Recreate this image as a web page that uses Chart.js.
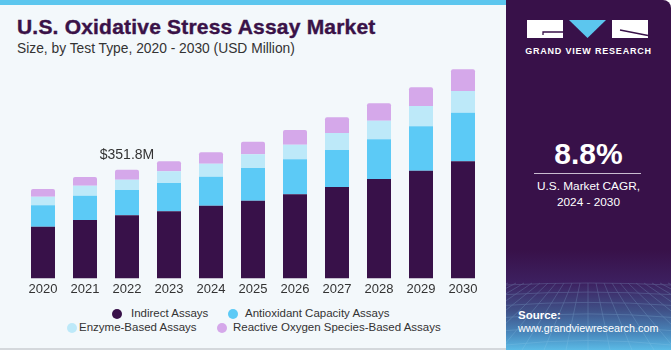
<!DOCTYPE html>
<html>
<head>
<meta charset="utf-8">
<script src="https://cdn.jsdelivr.net/npm/chart.js@4.4.1/dist/chart.umd.min.js"></script>
<style>
  html, body { margin:0; padding:0; }
  body { width:671px; height:350px; position:relative; overflow:hidden; background:#ffffff; font-family:"Liberation Sans", Arial, sans-serif; }
  #left { position:absolute; left:0; top:0; width:506px; height:348px; background:#f3f8fb; border-bottom:2px solid #d4d8dc; }
  #stripe { position:absolute; left:0; top:0; width:506px; height:5px; background:#5cc6ee; }
  #title { position:absolute; left:17px; top:15px; font-size:21px; font-weight:bold; color:#3a1248; white-space:nowrap; letter-spacing:0.2px; -webkit-text-stroke:0.4px #3a1248; }
  #subtitle { position:absolute; left:17px; top:41px; font-size:13.8px; color:#333; white-space:nowrap; }
  #chartwrap { position:absolute; left:0; top:0; width:506px; height:300px; }
  .leg { position:absolute; font-size:11.5px; color:#333; white-space:nowrap; }
  .dot { position:absolute; width:10px; height:10px; border-radius:50%; }
  #right { position:absolute; left:506px; top:0; width:165px; height:350px; border-top-right-radius:8px; overflow:hidden;
     background: linear-gradient(to bottom, #381149 0px, #381149 250px, #3d2060 283px, #3f4f86 310px, #4a8cc0 335px, #5bbbe6 350px); }
  .rt { position:absolute; color:#fff; white-space:nowrap; text-align:center; }
</style>
</head>
<body>
<div id="left"></div>
<div id="stripe"></div>
<div id="title">U.S. Oxidative Stress Assay Market</div>
<div id="subtitle">Size, by Test Type, 2020 - 2030 (USD Million)</div>
<div id="chartwrap"><canvas id="c" width="506" height="300"></canvas></div>
<div id="legend"></div>

<div id="right">
  <svg width="165" height="350" style="position:absolute;left:0;top:0">
    <g opacity="0.28" stroke="#9fd4f0" stroke-width="0.7" fill="none" id="grid"></g>
    <rect x="21" y="20" width="36" height="18" fill="#fff"/>
    <polyline points="57,32 37,32 37,35" stroke="#381149" stroke-width="1.3" fill="none"/>
    <polygon points="63,20 100,20 81.5,38" fill="#5cc6ee"/>
    <rect x="106" y="20" width="36" height="18" fill="#fff"/>
    <line x1="114" y1="30" x2="142" y2="35.5" stroke="#381149" stroke-width="1.3"/>
  </svg>
  <div class="rt" style="left:0;width:165px;top:46px;font-size:9px;font-weight:bold;letter-spacing:0.8px;">GRAND VIEW RESEARCH</div>
  <div class="rt" style="left:0;width:165px;top:137px;font-size:30px;font-weight:bold;">8.8%</div>
  <div style="position:absolute;left:28px;top:173px;width:107px;height:1px;background:#c9bcd0;"></div>
  <div class="rt" style="left:0;width:165px;top:178px;font-size:11.8px;line-height:16px;">U.S. Market CAGR,<br>2024 - 2030</div>
  <div class="rt" style="left:12px;top:309px;font-size:11.5px;font-weight:bold;text-align:left;">Source:</div>
  <div class="rt" style="left:12px;top:322px;font-size:10.8px;text-align:left;">www.grandviewresearch.com</div>
</div>

<script>
const years = ["2020","2021","2022","2023","2024","2025","2026","2027","2028","2029","2030"];
const indirectAssays   = [167.3, 188.8, 204.0, 216.9, 235.2, 251.4, 271.9, 295.6, 321.5, 348.5, 378.7];
const antioxidantAssays= [ 69.1,  78.8,  82.0,  91.7,  93.9, 105.7, 113.3, 119.8, 128.4, 143.5, 157.5];
const enzymeAssays     = [ 28.1,  32.4,  33.4,  37.8,  42.1,  44.2,  47.5,  55.0,  60.4,  65.8,  70.1];
const rosAssays        = [ 24.8,  28.1,  32.4,  32.4,  36.7,  41.0,  47.5,  50.7,  56.1,  60.4,  70.1];
const seriesNames = ["Indirect Assays","Antioxidant Capacity Assays","Enzyme-Based Assays","Reactive Oxygen Species-Based Assays"];
const seriesColors = ["#381149","#5ccaf6","#bde9f9","#d5a8ea"];
const calloutIndex = 2;
const calloutText = "$351.8M";

// decorative grid in right panel
(function(){
  const g = document.getElementById('grid');
  let s = '';
  for (let i=0;i<8;i++){ const y = 285 + i*9 + i*i*0.6; s += `<path d="M0 ${y} Q82 ${y-4-i} 165 ${y}"/>`; }
  for (let i=-10;i<=10;i++){ const x0 = 82 + i*8, x1 = 82 + i*22; s += `<line x1="${x0}" y1="283" x2="${x1}" y2="350"/>`; }
  g.innerHTML = s;
})();

const calloutPlugin = {
  id:'callout',
  afterDatasetsDraw(chart){
    const meta = chart.getDatasetMeta(chart.data.datasets.length-1);
    const bar = meta.data[calloutIndex];
    const ctx = chart.ctx;
    ctx.save();
    ctx.font = '14px "Liberation Sans", Arial, sans-serif';
    ctx.fillStyle = '#333';
    ctx.textAlign = 'center';
    ctx.textBaseline = 'middle';
    ctx.fillText(calloutText, bar.x, bar.y - 15);
    ctx.restore();
  }
};

const datasets = [indirectAssays, antioxidantAssays, enzymeAssays, rosAssays].map((d,i)=>({
  label: seriesNames[i], data: d, backgroundColor: seriesColors[i], borderWidth: 0,
  borderRadius: i===3 ? {topLeft:2, topRight:2} : 0, borderSkipped: false,
  categoryPercentage: 1.0, barPercentage: 24/42
}));

new Chart(document.getElementById('c'), {
  type:'bar',
  data:{ labels: years, datasets },
  options:{
    responsive:false, animation:false,
    layout:{ padding:{ left:22, right:22, top:62, bottom:0 } },
    plugins:{ legend:{display:false}, tooltip:{enabled:false} },
    scales:{
      x:{ stacked:true, grid:{display:false, drawTicks:false}, border:{display:false},
          ticks:{ color:'#333', font:{ family:'"Liberation Sans", Arial, sans-serif', size:13 }, padding:3 } },
      y:{ stacked:true, display:false, min:0, max:700 }
    }
  },
  plugins:[calloutPlugin]
});

// HTML legend
const legendPos = [
  {dx:112, tx:131, y:314},
  {dx:228, tx:245, y:314},
  {dx:67,  tx:79,  y:328},
  {dx:217, tx:233, y:328}
];
const leg = document.getElementById('legend');
seriesNames.forEach((n,i)=>{
  const p = legendPos[i];
  const dot = document.createElement('div');
  dot.className='dot'; dot.style.background=seriesColors[i];
  dot.style.left=p.dx+'px'; dot.style.top=(p.y-5)+'px';
  const t = document.createElement('div');
  t.className='leg'; t.textContent=n; t.style.left=p.tx+'px'; t.style.top=(p.y-7)+'px';
  leg.appendChild(dot); leg.appendChild(t);
});
</script>
</body>
</html>
